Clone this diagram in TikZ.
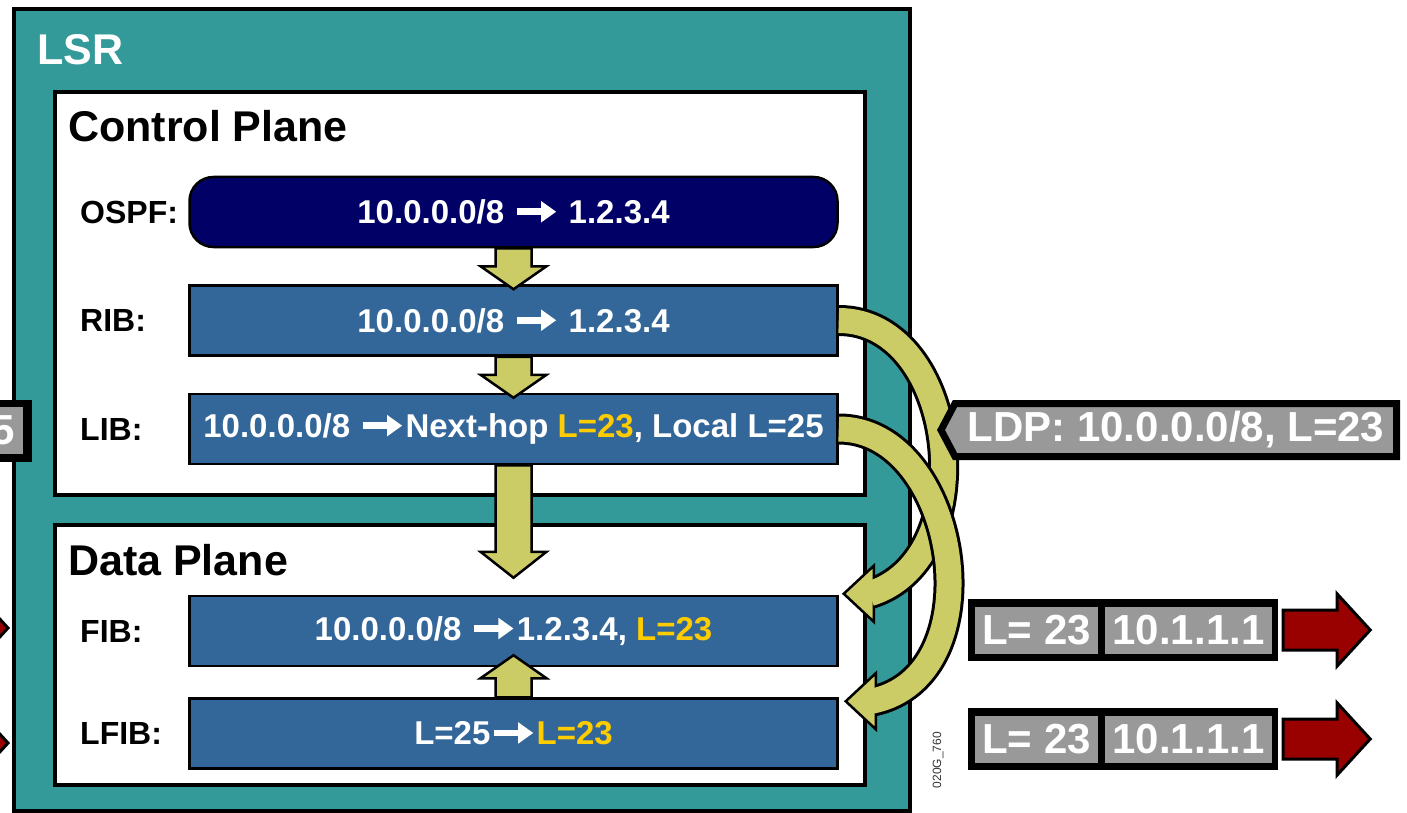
\documentclass[tikz,border=0pt]{standalone}
\usepackage{fontspec}
\setmainfont{Liberation Sans}
\usetikzlibrary{calc,positioning,arrows.meta}

\definecolor{lsrteal}{RGB}{51,153,153}
\definecolor{ospfnavy}{RGB}{0,0,102}
\definecolor{tableblue}{RGB}{51,102,153}
\definecolor{pathgreen}{RGB}{204,204,102}
\definecolor{taggrey}{RGB}{153,153,153}
\definecolor{lblyellow}{RGB}{255,204,0}
\definecolor{pktred}{RGB}{153,0,0}

\newcommand{\rarr}{\tikz[baseline=-0.36em]\draw[white, line width=0.2em, -{Triangle[length=0.46em, width=0.62em]}] (0,0) -- (1.2em,0);}
\newcommand{\hl}[1]{\textcolor{lblyellow}{#1}}
% straight fat arrow: tail anchor, tip coordinate, signed head length
\newcommand{\fatarr}[3]{%
  \draw[fatarrow] ($(#1)+(-18,0)$) -- ($(#2)+(-18,#3)$) -- ($(#2)+(-33,#3)$) -- (#2)
    -- ($(#2)+(33,#3)$) -- ($(#2)+(18,#3)$) -- ($(#1)+(18,0)$) -- cycle;}
% bent fat arrow: tail anchor, tip coordinate, second control
\newcommand{\bentarr}[3]{%
  \draw[line width=31pt] (#1) .. controls +(120,0) and +(#3) .. ($(#2)+(26,0)$);
  \draw[fatarrow] (#2) -- +(30,-28) -- +(30,28) -- cycle;
  \draw[pathgreen, line width=25pt] (#1) .. controls +(120,0) and +(#3) .. ($(#2)+(26,0)$);}

\tikzset{
    lsrbox/.style={draw, fill=lsrteal, line width=4.5pt, inner sep=0pt},
    planebox/.style={draw, fill=white, line width=4pt, inner sep=0pt, minimum width=810pt},
    planetitle/.style={anchor=base west, inner sep=0pt, font=\fontsize{43}{50}\selectfont\bfseries},
    tablebox/.style={draw, fill=tableblue, line width=2.5pt, minimum width=648pt, minimum height=70pt,
        inner sep=0pt, text=white, font=\fontsize{33}{40}\selectfont\bfseries},
    rowlabel/.style={anchor=west, inner sep=0pt, font=\fontsize{32}{38}\selectfont\bfseries},
    fatarrow/.style={draw, fill=pathgreen, line width=2.5pt, line join=miter},
    ldptag/.style={draw, fill=taggrey, line width=7pt, line join=miter},
    tagtext/.style={inner sep=0pt, text=white, font=\fontsize{42}{50}\selectfont\bfseries},
    packet/.style={fill=black, minimum width=310pt, minimum height=62pt, inner sep=0pt},
    cell/.style={fill=taggrey, minimum height=47pt, inner sep=0pt, text=white,
        font=\fontsize{42}{50}\selectfont\bfseries},
    pktarrow/.style={draw, fill=pktred, line width=3pt, line join=miter}
}

\begin{document}
\begin{tikzpicture}[x=1pt, y=-1pt]
\useasboundingbox (0,0) rectangle (1407,813);
\clip (0,0) rectangle (1407,813);

% LSR and its two planes
\node[lsrbox, minimum width=896pt, minimum height=802pt] (lsr) at (462,410) {};
\node[anchor=base west, inner sep=0pt, text=white, font=\fontsize{43}{50}\selectfont\bfseries] (lsrtitle) at (37,65) {LSR};
\node[planebox, minimum height=403pt] (control) at (460,293.5) {};
\node[planebox, minimum height=260pt] (data) at (460,655) {};
\node[planetitle] (controltitle) at (68,142) {Control Plane};
\node[planetitle] (datatitle) at (68,575) {Data Plane};

% Tables
\node[tablebox, fill=ospfnavy, rounded corners=24pt] (ospf) at (513.5,212) {10.0.0.0/8 \rarr{} 1.2.3.4};
\node[tablebox, below=36pt of ospf] (rib) {10.0.0.0/8 \rarr{} 1.2.3.4};
\node[tablebox, below=36pt of rib] (lib) {10.0.0.0/8 \rarr{}Next-hop \hl{L=23}, Local L=25};
\node[tablebox] (fib) at (513.5,631) {10.0.0.0/8 \rarr{}1.2.3.4, \hl{L=23}};
\node[tablebox, below=30pt of fib] (lfib) {L=25\rarr{}\hl{L=23}};

\node[rowlabel] (ospflabel) at (80,0 |- ospf) {OSPF:};
\node[rowlabel] (riblabel) at (80,0 |- rib) {RIB:};
\node[rowlabel] (liblabel) at (80,0 |- lib) {LIB:};
\node[rowlabel] (fiblabel) at (80,0 |- fib) {FIB:};
\node[rowlabel] (lfiblabel) at (80,0 |- lfib) {LFIB:};

% Straight arrows
\coordinate (ribtip) at ($(rib.north)+(0,5)$);
\coordinate (libtip) at ($(lib.north)+(0,5)$);
\coordinate (fibtip) at ($(fib.north)+(0,-17)$);
\coordinate (fibbottip) at ($(fib.south)+(0,-12)$);
\fatarr{ospf.south}{ribtip}{-23}
\fatarr{rib.south}{libtip}{-23}
\fatarr{lib.south}{fibtip}{-26}
\fatarr{lfib.north}{fibbottip}{23}

% Bent arrows
\coordinate (fibhead) at ($(fib.north east)+(5,-1)$);
\coordinate (lfibhead) at ($(lfib.north east)+(7,4)$);
\bentarr{rib.east}{fibhead}{115,-35}
\bentarr{lib.east}{lfibhead}{125,-25}

% Left edge, cut off
\node[packet, minimum width=60pt] (prevpkt) at (2,430.5) {};
\node[cell, minimum width=40pt, anchor=east] (prevlabel) at ([xshift=-9pt]prevpkt.east) {5};
\draw[pktarrow] (8,628) -- ++(-33,-36) -- ++(0,16) -- ++(-54,0) -- ++(0,40) -- ++(54,0) -- ++(0,16) -- cycle;
\draw[pktarrow] (8,743) -- ++(-33,-36) -- ++(0,16) -- ++(-54,0) -- ++(0,40) -- ++(54,0) -- ++(0,16) -- cycle;

% LDP message
\draw[ldptag] (941,430) -- (955,403.5) -- (1396.5,403.5) -- (1396.5,456.5) -- (955,456.5) -- cycle;
\node[tagtext] (ldp) at (1176,430) {LDP: 10.0.0.0/8, L=23};

% Labelled packets
\node[packet] (pkt1) at (1123,630) {};
\node[cell, minimum width=123pt, anchor=west] (label1) at ([xshift=7pt]pkt1.west) {L= 23};
\node[cell, minimum width=167pt, anchor=east] (ip1) at ([xshift=-6pt]pkt1.east) {10.1.1.1};
\draw[pktarrow] ([xshift=5pt]pkt1.east) ++(0,-20) -- ++(54,0) -- ++(0,-16) -- ++(33,36) -- ++(-33,36) -- ++(0,-16) -- ++(-54,0) -- cycle;

\node[packet] (pkt2) at (1123,739) {};
\node[cell, minimum width=123pt, anchor=west] (label2) at ([xshift=7pt]pkt2.west) {L= 23};
\node[cell, minimum width=167pt, anchor=east] (ip2) at ([xshift=-6pt]pkt2.east) {10.1.1.1};
\draw[pktarrow] ([xshift=5pt]pkt2.east) ++(0,-20) -- ++(54,0) -- ++(0,-16) -- ++(33,36) -- ++(-33,36) -- ++(0,-16) -- ++(-54,0) -- cycle;

\node[rotate=90, inner sep=0pt, text=black!80, font=\fontsize{12}{14}\selectfont] (figid) at (938,760) {020G\_760};

\end{tikzpicture}
\end{document}
